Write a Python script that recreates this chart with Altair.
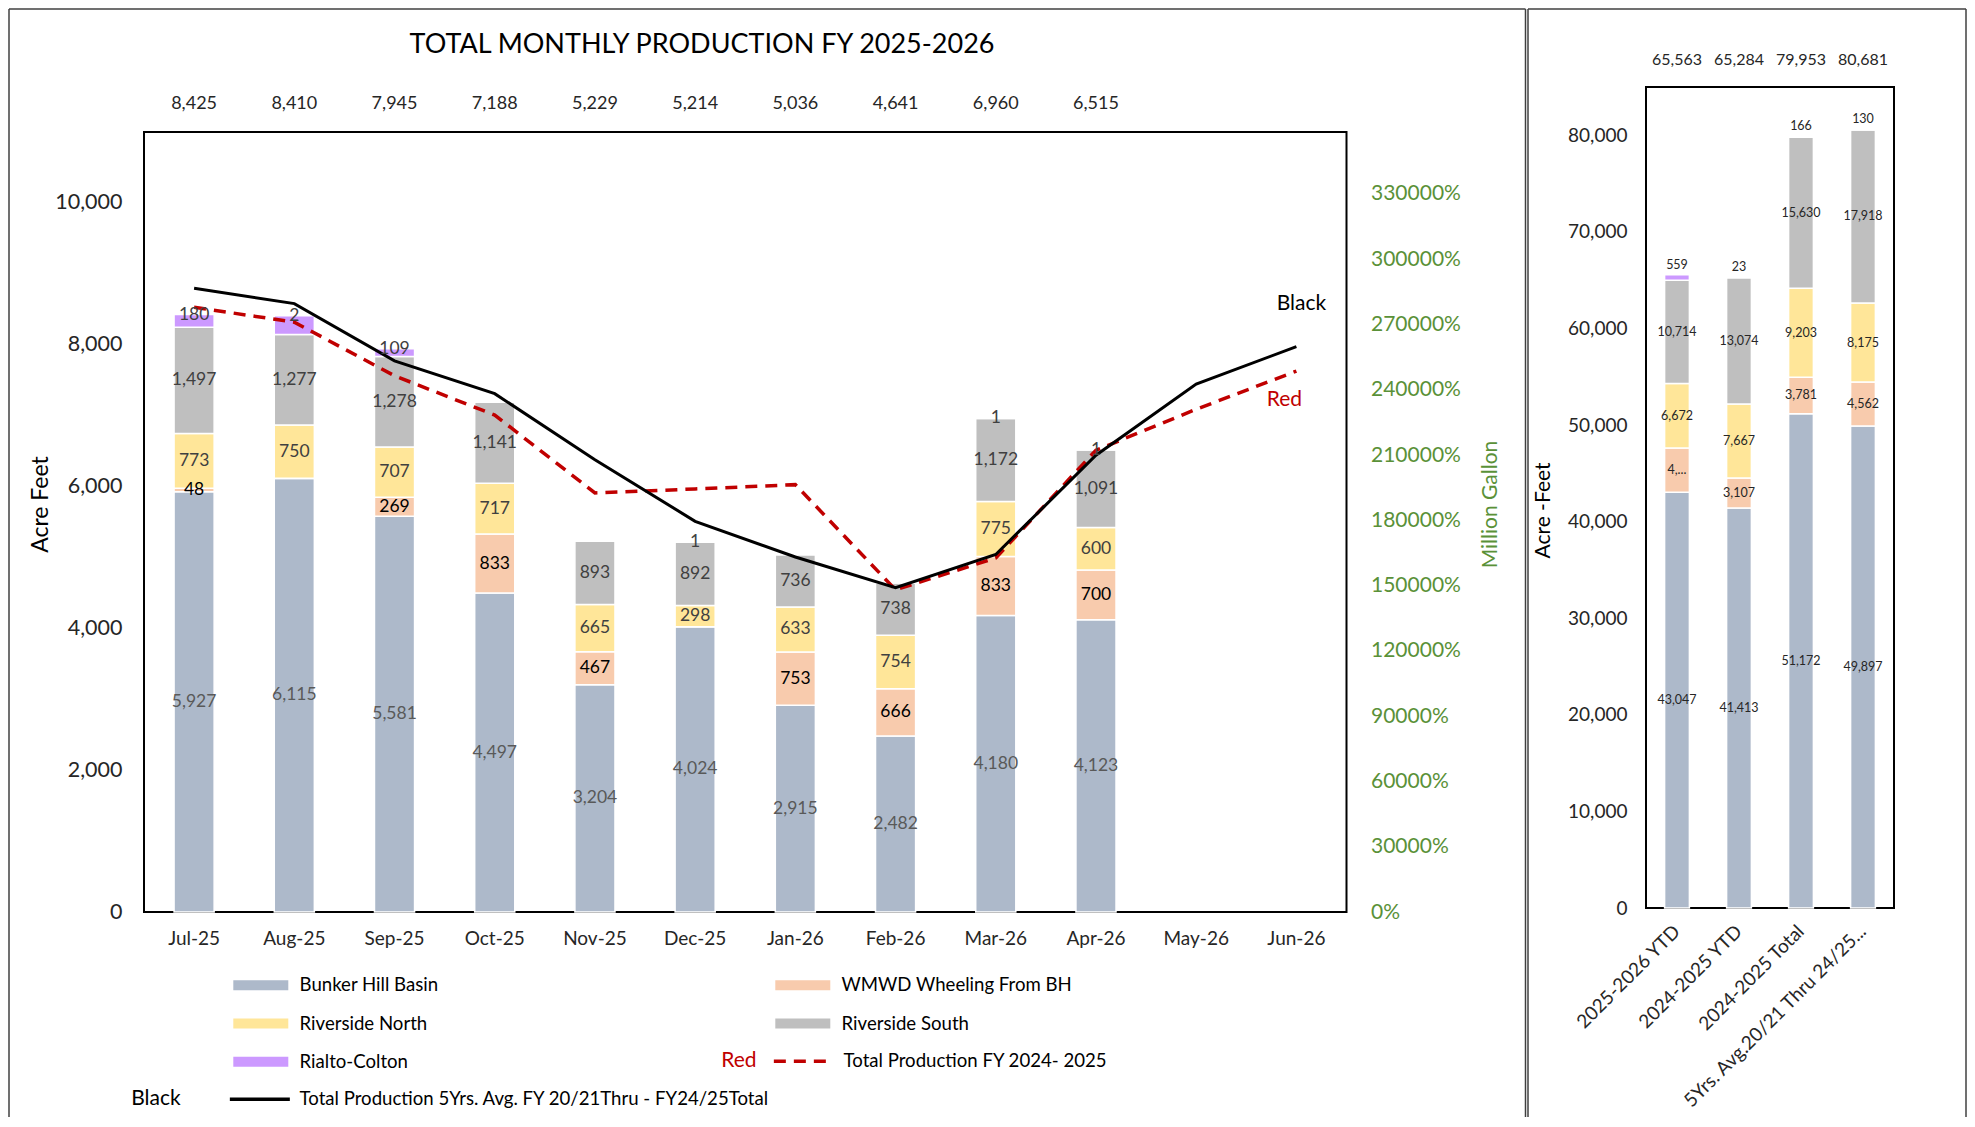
import altair as alt
import pandas as pd

# ---------------- data ----------------
MONTHS = ["Jul-25", "Aug-25", "Sep-25", "Oct-25", "Nov-25", "Dec-25",
          "Jan-26", "Feb-26", "Mar-26", "Apr-26", "May-26", "Jun-26"]
BAR_MONTHS = MONTHS[:10]
SERIES = ["Bunker Hill Basin", "WMWD Wheeling From BH", "Riverside North",
          "Riverside South", "Rialto-Colton"]
SERIES_COLORS = ["#ADB9CA", "#F8CBAD", "#FFE699", "#BFBFBF", "#CC99FF"]

bunker_hill = [5927, 6115, 5581, 4497, 3204, 4024, 2915, 2482, 4180, 4123]
wmwd_wheeling = [48, 2, 269, 833, 467, 0, 753, 666, 833, 700]
riverside_north = [773, 750, 707, 717, 665, 298, 633, 754, 775, 600]
riverside_south = [1497, 1277, 1278, 1141, 893, 892, 736, 738, 1172, 1091]
rialto_colton = [180, 266, 109, 0, 0, 1, 0, 0, 1, 1]

wmwd_labels = ["48", "", "269", "833", "467", "", "753", "666", "833", "700"]
rialto_labels = ["180", "2", "109", "", "", "1", "", "", "1", "1"]

monthly_totals = ["8,425", "8,410", "7,945", "7,188", "5,229", "5,214",
                  "5,036", "4,641", "6,960", "6,515"]

RED_NAME = "Total Production FY 2024- 2025"
BLACK_NAME = "Total Production 5Yrs. Avg. FY 20/21Thru - FY24/25Total"
fy2425_total = [8529, 8318, 7562, 7008, 5910, 5966, 6027, 4544, 4993, 6512, 7090, 7628]
avg5_total = [8795, 8580, 7773, 7310, 6379, 5510, 5007, 4573, 5042, 6441, 7446, 7973]

MG_PER_AF = 0.325851
TITLE = "TOTAL MONTHLY PRODUCTION FY 2025-2026"

SUMMARY = ["2025-2026 YTD", "2024-2025 YTD", "2024-2025 Total",
           "5Yrs. Avg.20/21 Thru 24/25..."]
sum_bunker = [43047, 41413, 51172, 49897]
sum_wmwd = [4571, 3107, 3781, 4562]
sum_rnorth = [6672, 7667, 9203, 8175]
sum_rsouth = [10714, 13074, 15630, 17918]
sum_rialto = [559, 23, 166, 130]
sum_wmwd_labels = ["4,...", "3,107", "3,781", "4,562"]
sum_totals = ["65,563", "65,284", "79,953", "80,681"]


def fmt(vals):
    return [f"{v:,}" if v else "" for v in vals]


def stacked(cats, values, labels):
    rows = []
    for i, c in enumerate(cats):
        base = 0.0
        for k, s in enumerate(SERIES):
            v = values[k][i]
            rows.append({"cat": c, "series": s, "y0": base, "y1": base + v,
                         "mid": base + v / 2.0, "label": labels[k][i]})
            base += v
    return pd.DataFrame(rows)


df_left = stacked(
    BAR_MONTHS,
    [bunker_hill, wmwd_wheeling, riverside_north, riverside_south, rialto_colton],
    [fmt(bunker_hill), wmwd_labels, fmt(riverside_north), fmt(riverside_south), rialto_labels],
)
df_right = stacked(
    SUMMARY,
    [sum_bunker, sum_wmwd, sum_rnorth, sum_rsouth, sum_rialto],
    [fmt(sum_bunker), sum_wmwd_labels, fmt(sum_rnorth), fmt(sum_rsouth), fmt(sum_rialto)],
)
df_tot_left = pd.DataFrame({"cat": BAR_MONTHS, "label": monthly_totals})
df_tot_right = pd.DataFrame({"cat": SUMMARY, "label": sum_totals})
df_red = pd.DataFrame({"cat": MONTHS, "value": fy2425_total, "series": RED_NAME})
df_black = pd.DataFrame({"cat": MONTHS, "value": avg5_total, "series": BLACK_NAME})
df_mg = pd.DataFrame({"cat": MONTHS, "mg": [v * MG_PER_AF for v in avg5_total]})
df_annot = pd.DataFrame({"cat": ["Jun-26", "Jun-26"], "value": [8571, 7217],
                         "label": ["Black", "Red"]})
one = pd.DataFrame({"k": [0]})

FONT = "Lato"
GREEN = "#5A9138"
TXT = "#262626"

# geometry of the left panel (plot area shares its top with the summary panel)
LEFT_W = 1202.5
LEFT_H = 825.0
LEFT_TOP_AF = 11000.0                      # value at the visible plot frame top
LEFT_MAX = LEFT_TOP_AF * LEFT_H / 780.0    # value at the group top

# ---------------- left panel ----------------
x_left = alt.X("cat:N", scale=alt.Scale(domain=MONTHS, paddingInner=0.6, paddingOuter=0.3),
               axis=alt.Axis(title=None, labelFontSize=19, labelColor=TXT, labelPadding=17,
                             ticks=False, tickSize=0, domain=False, grid=False, labelAngle=0))
y_left_scale = alt.Scale(domain=[0, LEFT_MAX], nice=False, zero=True)
left_axis = alt.Axis(title="Acre Feet", values=list(range(0, 10001, 2000)), format=",.0f",
                     labelFontSize=21.5, labelColor=TXT, labelPadding=22, ticks=False,
                     tickSize=0, domain=False, gridColor="#D9D9D9", gridWidth=1.5,
                     titleFontSize=23, titleFontWeight="normal", titleColor="#000000",
                     titleX=-103.75, titleY=417, titleAngle=270, titleAlign="center",
                     titleBaseline="middle")


def y_left(field):
    return alt.Y(f"{field}:Q", scale=y_left_scale, axis=left_axis)


plot_frame_left = alt.Chart(one).mark_rect(fillOpacity=0, stroke="black", strokeWidth=2).encode(
    x=alt.value(0), x2=alt.value(LEFT_W),
    y=alt.YDatum(LEFT_TOP_AF, type="quantitative", scale=y_left_scale, axis=left_axis),
    y2=alt.Y2Datum(0),
)

bars_left = alt.Chart(df_left).mark_bar(stroke="white", strokeWidth=1.5).encode(
    x=x_left, y=y_left("y0"), y2="y1:Q",
    color=alt.Color("series:N", scale=alt.Scale(domain=SERIES, range=SERIES_COLORS),
                    legend=alt.Legend(title=None, orient="none", legendX=85, legendY=889,
                                      direction="horizontal", columns=2, columnPadding=332,
                                      rowPadding=19.2,
                                      symbolType="M-1,-1H10V1H-1Z", symbolSize=100,
                                      symbolStrokeWidth=0, labelOffset=52,
                                      labelFontSize=18.6, labelColor="#000000",
                                      labelLimit=0, padding=0)),
)

red_legend = alt.Legend(title=None, orient="none", legendX=626, legendY=965,
                        symbolType="M-1,0H10", symbolSize=119, symbolStrokeWidth=3.5,
                        labelOffset=55, labelFontSize=18.6, labelColor="#000000",
                        labelLimit=0, padding=0)
red_line = alt.Chart(df_red).mark_line(strokeWidth=3.5).encode(
    x=x_left, y=y_left("value"),
    stroke=alt.Stroke("series:N", scale=alt.Scale(domain=[RED_NAME], range=["#C00000"]),
                      legend=red_legend),
    strokeDash=alt.StrokeDash("series:N", scale=alt.Scale(domain=[RED_NAME], range=[[12, 8]]),
                              legend=red_legend),
)
black_line = alt.Chart(df_black).mark_line(strokeWidth=3).encode(
    x=x_left, y=y_left("value"),
    stroke=alt.Stroke("series:N", scale=alt.Scale(domain=[BLACK_NAME], range=["#000000"]),
                      legend=alt.Legend(title=None, orient="none", legendX=82, legendY=1003,
                                        symbolType="M-1,0H10", symbolSize=119,
                                        symbolStrokeWidth=3.5, labelOffset=55,
                                        labelFontSize=18.6, labelColor="#000000",
                                        labelLimit=0, padding=0)),
)


def label_layer(df, series_list, color, field, size, x_enc, y_fn, dy=0):
    return (alt.Chart(df)
            .transform_filter(alt.FieldOneOfPredicate(field="series", oneOf=series_list))
            .transform_filter(alt.datum.label != "")
            .mark_text(fontSize=size, color=color, dy=dy, font=FONT)
            .encode(x=x_enc, y=y_fn(field), text="label:N"))


lab_bunker = label_layer(df_left, [SERIES[0]], "#595959", "mid", 17.5, x_left, y_left)
lab_wmwd = label_layer(df_left, [SERIES[1]], "#000000", "mid", 17.5, x_left, y_left)
lab_rivers = label_layer(df_left, [SERIES[2], SERIES[3]], "#404040", "mid", 17.5, x_left, y_left)
lab_rialto = label_layer(df_left, [SERIES[4]], "#404040", "y1", 17.5, x_left, y_left)

totals_left = alt.Chart(df_tot_left).mark_text(fontSize=18, color=TXT, font=FONT).encode(
    x=x_left, y=alt.value(17), text="label:N")

title_text = alt.Chart(pd.DataFrame({"t": [TITLE]})).mark_text(
    fontSize=27, color="#000000", font=FONT).encode(
    x=alt.value(558), y=alt.value(-41.75), text="t:N")

annot_black = alt.Chart(df_annot).transform_filter(alt.datum.label == "Black").mark_text(
    fontSize=21, color="#000000", font=FONT, dx=5).encode(x=x_left, y=y_left("value"), text="label:N")
annot_red = alt.Chart(df_annot).transform_filter(alt.datum.label == "Red").mark_text(
    fontSize=21, color="#C00000", font=FONT, dx=-12).encode(x=x_left, y=y_left("value"), text="label:N")

prefix_red = alt.Chart(pd.DataFrame({"t": ["Red"]})).mark_text(
    fontSize=21, color="#C00000", font=FONT, align="left").encode(
    x=alt.value(577.25), y=alt.value(974.25), text="t:N")
prefix_black = alt.Chart(pd.DataFrame({"t": ["Black"]})).mark_text(
    fontSize=21, color="#000000", font=FONT, align="left").encode(
    x=alt.value(-12.75), y=alt.value(1012.25), text="t:N")


def vrule(x, y0, y1):
    return alt.Chart(one).mark_rule(color="#404040", strokeWidth=1.5).encode(
        x=alt.value(x), y=alt.value(y0), y2=alt.value(y1))


def hrule(x0, x1, y):
    return alt.Chart(one).mark_rule(color="#404040", strokeWidth=1.5).encode(
        x=alt.value(x0), x2=alt.value(x1), y=alt.value(y))


frame_left = [vrule(-135, -78, 1030), hrule(-135, 1381.5, -78), vrule(1381.5, -78, 1030)]

mg_layer = alt.Chart(df_mg).mark_point(opacity=0).encode(
    x=x_left,
    y=alt.Y("mg:Q", scale=alt.Scale(domain=[0, LEFT_MAX * MG_PER_AF], nice=False, zero=True),
            axis=alt.Axis(orient="right", title="Million Gallon",
                          values=[300 * k for k in range(12)], format=".0%",
                          labelColor=GREEN, labelFontSize=21, labelPadding=24,
                          ticks=False, tickSize=0, domain=False, grid=False,
                          titleColor=GREEN, titleFontSize=21, titleFontWeight="normal",
                          titleX=143.5, titleY=417, titleAngle=270, titleAlign="center",
                          titleBaseline="middle")),
)

inner_left = alt.layer(
    plot_frame_left, bars_left, red_line, black_line, lab_bunker, lab_wmwd, lab_rivers,
    lab_rialto, totals_left, title_text, annot_black, annot_red, prefix_red, prefix_black,
    *frame_left
).resolve_scale(stroke="independent", strokeDash="independent")

left = alt.layer(inner_left, mg_layer).resolve_scale(y="independent").properties(
    width=LEFT_W, height=LEFT_H)

# ---------------- right panel ----------------
RIGHT_W = 248
RIGHT_H = 821
x_right = alt.X("cat:N", scale=alt.Scale(domain=SUMMARY, paddingInner=0.6, paddingOuter=0.3),
                axis=alt.Axis(title=None, labelAngle=315, labelAlign="right",
                              labelBaseline="middle", labelFontSize=19, labelPadding=20,
                              labelLimit=0, ticks=False, tickSize=0, domain=False,
                              grid=False, labelColor=TXT))
y_right_scale = alt.Scale(domain=[0, 85000], nice=False, zero=True)
right_axis = alt.Axis(title="Acre -Feet", values=list(range(0, 80001, 10000)), format=",.0f",
                      labelFontSize=19, labelColor=TXT, labelPadding=19, ticks=False,
                      tickSize=0, domain=False, gridColor="#D9D9D9", gridWidth=1.5,
                      titleFontSize=21, titleFontWeight="normal", titleColor="#000000",
                      titleX=-103, titleY=423, titleAngle=270, titleAlign="center",
                      titleBaseline="middle")


def y_right(field):
    return alt.Y(f"{field}:Q", scale=y_right_scale, axis=right_axis)


plot_frame_right = alt.Chart(one).mark_rect(fillOpacity=0, stroke="black", strokeWidth=2).encode(
    x=alt.value(0), x2=alt.value(RIGHT_W),
    y=alt.YDatum(85000, type="quantitative", scale=y_right_scale, axis=right_axis),
    y2=alt.Y2Datum(0),
)
bars_right = alt.Chart(df_right).mark_bar(stroke="white", strokeWidth=1.5).encode(
    x=x_right, y=y_right("y0"), y2="y1:Q",
    color=alt.Color("series:N", scale=alt.Scale(domain=SERIES, range=SERIES_COLORS), legend=None),
)
lab_r_main = label_layer(df_right, SERIES[:4], TXT, "mid", 12.5, x_right, y_right)
lab_r_rialto = label_layer(df_right, [SERIES[4]], TXT, "y1", 12.5, x_right, y_right, dy=-10)
totals_right = alt.Chart(df_tot_right).mark_text(fontSize=16, color=TXT, font=FONT).encode(
    x=x_right, y=alt.value(-26.75), text="label:N")
frame_right = [vrule(-118, -78, 1030), hrule(-118, 320, -78), vrule(320, -78, 1030)]

right = alt.layer(plot_frame_right, bars_right, lab_r_main, lab_r_rialto, totals_right,
                  *frame_right).properties(width=RIGHT_W, height=RIGHT_H)

chart = (alt.hconcat(left, right, spacing=0)
         .resolve_scale(color="independent")
         .properties(padding=0)
         .configure_view(stroke=None)
         .configure_axis(labelFont=FONT, titleFont=FONT)
         .configure_legend(labelFont=FONT, titleFont=FONT)
         .configure_text(font=FONT))

chart.save("out.html", embed_options={"renderer": "svg", "actions": False})
